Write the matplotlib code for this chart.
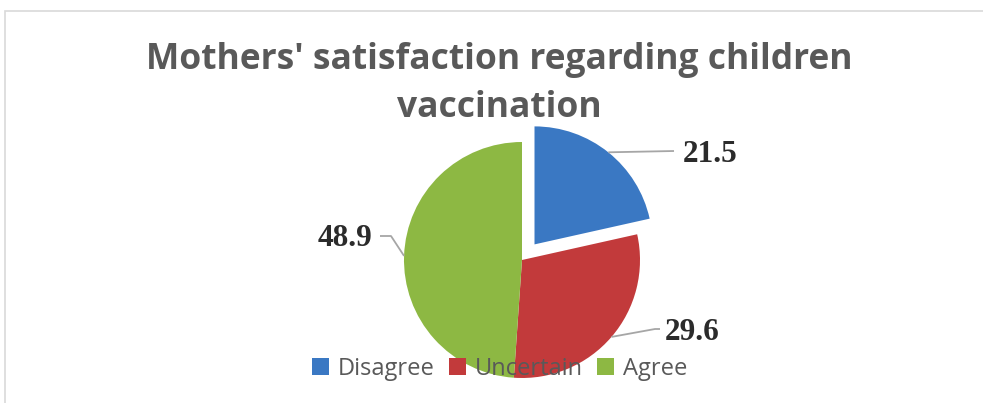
import numpy as np
import matplotlib.pyplot as plt
from matplotlib.patches import Rectangle

categories = ['Disagree', 'Uncertain', 'Agree']
values = [21.5, 29.6, 48.9]
colors = ['#3A78C3', '#C23A3B', '#8DB843']

W, H = 983, 403
fig = plt.figure(figsize=(W / 100, H / 100), dpi=100)
ax = fig.add_axes([0, 0, 1, 1])

# chart frame
ax.add_patch(Rectangle((5, -5), W, H - 11 + 5, fill=False, ec='#D9D9D9', lw=1.2))

cx, cy, r = 522, H - 260, 118
wedges, _ = ax.pie(values, colors=colors, startangle=90, counterclock=False,
                   center=(cx, cy), radius=r, explode=[20, 0, 0],
                   wedgeprops=dict(lw=0), frame=True)
ax.set_xlim(0, W)
ax.set_ylim(0, H)
ax.set_aspect('equal')
ax.axis('off')

# data labels with leader lines: (label centre, elbow, line end x)
label_pos = [(710, H - 155), (692, H - 332), (345, H - 238)]
elbows = [(674, H - 151), (655, H - 329), (391, H - 236)]
line_end = [674, 660, 380]
for w, v, (tx, ty), (kx, ky), lx in zip(wedges, values, label_pos, elbows, line_end):
    ang = np.deg2rad((w.theta1 + w.theta2) / 2)
    ex, ey = w.center
    px, py = ex + w.r * np.cos(ang), ey + w.r * np.sin(ang)
    ax.plot([px, kx, lx], [py, ky, ky], color='#A6A6A6', lw=1.3,
            solid_capstyle='butt')
    ax.text(tx, ty, f'{v}', ha='center', va='center', fontsize=22.5,
            fontweight='bold', family='Liberation Serif', color='#2B2B2B')

fig.text(0.508, 1 - 60 / H, "Mothers' satisfaction regarding children",
         ha='center', va='center', fontsize=25.5, fontweight='bold',
         family='Open Sans', color='#595959')
fig.text(0.508, 1 - 108 / H, 'vaccination', ha='center', va='center',
         fontsize=25.5, fontweight='bold', family='Open Sans', color='#595959')

leg = ax.legend(wedges, categories, loc='center', bbox_to_anchor=(500 / W, 1 - 369 / H),
                bbox_transform=fig.transFigure, ncol=3, frameon=False,
                prop={'family': 'Open Sans', 'size': 17}, handlelength=0.7,
                handleheight=0.7, handletextpad=0.4, columnspacing=0.6)
for t in leg.get_texts():
    t.set_color('#595959')

fig.savefig('out.png', dpi=100)
